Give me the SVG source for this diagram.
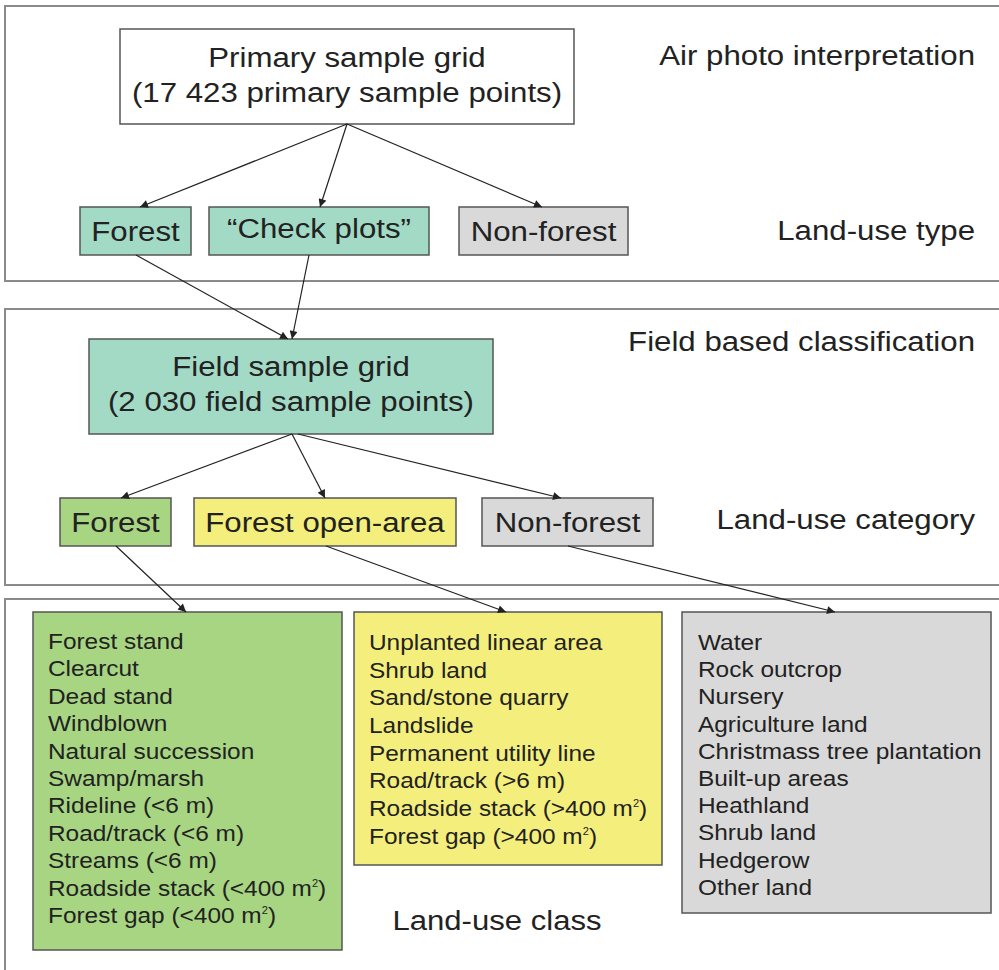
<svg xmlns="http://www.w3.org/2000/svg" width="999" height="970" viewBox="0 0 999 970">
<defs>
<marker id="ah" viewBox="0 0 10 10" refX="10" refY="5" markerWidth="10" markerHeight="8" markerUnits="userSpaceOnUse" orient="auto">
<path d="M0,0 L10,5 L0,10 z" fill="#222"/>
</marker>
</defs>
<style>
text{font-family:"Liberation Sans",Arial,sans-serif;fill:#222}
.panel{fill:#fff;stroke:#8a8a8a;stroke-width:2}
.box{stroke:#555;stroke-width:1.5}
.white{fill:#fff}
.teal{fill:#a3dac6}
.green{fill:#a7d582}
.yellow{fill:#f4ef7c}
.grey{fill:#d9d9d9}
.big{font-size:28px}
.lbl{font-size:28px;text-anchor:end}
.mid{text-anchor:middle}
.lst{font-size:22px}
.conn line{stroke:#222;stroke-width:1.2;marker-end:url(#ah)}
</style>
<rect width="999" height="970" fill="#fff"/>
<g id="panels">
<rect class="panel" x="5" y="6" width="995" height="275"/>
<rect class="panel" x="5" y="309" width="995" height="276"/>
<rect class="panel" x="5" y="599" width="995" height="375"/>
</g>
<g id="labels" transform="matrix(1.115 0 0 1 -112.125 0)">
<text class="lbl" x="975" y="65">Air photo interpretation</text>
<text class="lbl" x="975" y="240">Land-use type</text>
<text class="lbl" x="975" y="351">Field based classification</text>
<text class="lbl" x="975" y="529">Land-use category</text>
</g>
<g id="class-label">
<text class="big mid" x="497" y="930" transform="matrix(1.11 0 0 1 -54.67 0)">Land-use class</text>
</g>
<g id="primary">
<rect class="box white" x="120" y="29" width="454" height="95"/>
<g transform="matrix(1.115 0 0 1 -39.905 0)">
<text class="big mid" x="347" y="67">Primary sample grid</text>
<text class="big mid" x="347" y="102">(17 423 primary sample points)</text>
</g>
</g>
<g id="type-forest">
<rect class="box teal" x="80" y="207" width="111" height="48"/>
<text class="big mid" x="135.5" y="241" transform="matrix(1.115 0 0 1 -15.58 0)">Forest</text>
</g>
<g id="type-check">
<rect class="box teal" x="209" y="207" width="220" height="48"/>
<text class="big mid" x="319" y="238" transform="matrix(1.115 0 0 1 -36.685 0)">“Check plots”</text>
</g>
<g id="type-nonforest">
<rect class="box grey" x="459" y="207" width="169" height="48"/>
<text class="big mid" x="543.5" y="241" transform="matrix(1.115 0 0 1 -62.5 0)">Non-forest</text>
</g>
<g id="field">
<rect class="box teal" x="89" y="339" width="404" height="95"/>
<g transform="matrix(1.115 0 0 1 -33.465 0)">
<text class="big mid" x="291" y="376">Field sample grid</text>
<text class="big mid" x="291" y="411">(2 030 field sample points)</text>
</g>
</g>
<g id="cat-forest">
<rect class="box green" x="60" y="498" width="111" height="48"/>
<text class="big mid" x="115.5" y="532" transform="matrix(1.115 0 0 1 -13.28 0)">Forest</text>
</g>
<g id="cat-open">
<rect class="box yellow" x="194" y="498" width="262" height="48"/>
<text class="big mid" x="325" y="532" transform="matrix(1.115 0 0 1 -37.375 0)">Forest open-area</text>
</g>
<g id="cat-nonforest">
<rect class="box grey" x="482" y="498" width="171" height="48"/>
<text class="big mid" x="567.5" y="532" transform="matrix(1.115 0 0 1 -65.26 0)">Non-forest</text>
</g>
<g id="class-forest">
<rect class="box green" x="33" y="612" width="309" height="338"/>
<g transform="matrix(1.11 0 0 1 -5.28 0)">
<text class="lst" x="48" y="649">Forest stand</text>
<text class="lst" x="48" y="676.4">Clearcut</text>
<text class="lst" x="48" y="703.8">Dead stand</text>
<text class="lst" x="48" y="731.2">Windblown</text>
<text class="lst" x="48" y="758.6">Natural succession</text>
<text class="lst" x="48" y="786">Swamp/marsh</text>
<text class="lst" x="48" y="813.4">Rideline (&lt;6 m)</text>
<text class="lst" x="48" y="840.8">Road/track (&lt;6 m)</text>
<text class="lst" x="48" y="868.2">Streams (&lt;6 m)</text>
<text class="lst" x="48" y="895.6">Roadside stack (&lt;400 m<tspan font-size="10" dy="-9">2</tspan><tspan dy="9">)</tspan></text>
<text class="lst" x="48" y="923">Forest gap (&lt;400 m<tspan font-size="10" dy="-9">2</tspan><tspan dy="9">)</tspan></text>
</g>
</g>
<g id="class-open">
<rect class="box yellow" x="354" y="612" width="308" height="253"/>
<g transform="matrix(1.11 0 0 1 -40.59 0)">
<text class="lst" x="369" y="650">Unplanted linear area</text>
<text class="lst" x="369" y="677.7">Shrub land</text>
<text class="lst" x="369" y="705.4">Sand/stone quarry</text>
<text class="lst" x="369" y="733.1">Landslide</text>
<text class="lst" x="369" y="760.8">Permanent utility line</text>
<text class="lst" x="369" y="788.5">Road/track (&gt;6 m)</text>
<text class="lst" x="369" y="816.2">Roadside stack (&gt;400 m<tspan font-size="10" dy="-9">2</tspan><tspan dy="9">)</tspan></text>
<text class="lst" x="369" y="843.9">Forest gap (&gt;400 m<tspan font-size="10" dy="-9">2</tspan><tspan dy="9">)</tspan></text>
</g>
</g>
<g id="class-nonforest">
<rect class="box grey" x="682" y="612" width="309" height="301"/>
<g transform="matrix(1.11 0 0 1 -76.78 0)">
<text class="lst" x="698" y="650">Water</text>
<text class="lst" x="698" y="677.2">Rock outcrop</text>
<text class="lst" x="698" y="704.4">Nursery</text>
<text class="lst" x="698" y="731.6">Agriculture land</text>
<text class="lst" x="698" y="758.8">Christmass tree plantation</text>
<text class="lst" x="698" y="786">Built-up areas</text>
<text class="lst" x="698" y="813.2">Heathland</text>
<text class="lst" x="698" y="840.4">Shrub land</text>
<text class="lst" x="698" y="867.6">Hedgerow</text>
<text class="lst" x="698" y="894.8">Other land</text>
</g>
</g>
<g id="connectors" class="conn">
<line x1="347" y1="124" x2="140" y2="207"/>
<line x1="347" y1="124" x2="320" y2="207"/>
<line x1="347" y1="124" x2="542" y2="207"/>
<line x1="136" y1="255" x2="288" y2="339"/>
<line x1="309" y1="255" x2="292" y2="339"/>
<line x1="292" y1="434" x2="121" y2="498"/>
<line x1="292" y1="434" x2="325" y2="498"/>
<line x1="298" y1="434" x2="561" y2="498"/>
<line x1="116" y1="546" x2="186" y2="612"/>
<line x1="326" y1="546" x2="506" y2="612"/>
<line x1="568" y1="546" x2="835" y2="612"/>
</g>
</svg>
